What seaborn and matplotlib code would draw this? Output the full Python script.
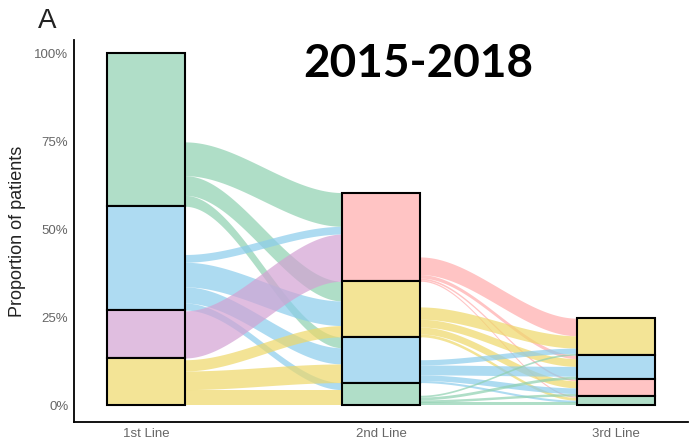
import numpy as np
import pandas as pd
import matplotlib.pyplot as plt
import matplotlib.colors as mcolors
import seaborn as sns

# Lineas de tratamiento y colores de cada regimen
lines = ["1st Line", "2nd Line", "3rd Line"]
regimens = ["R1", "R2", "R3", "R4", "R5"]
regimen_colors = ["#B0DEC8", "#AEDBF2", "#E0BEE0", "#F3E496", "#FFC4C4"]

# Proporcion en 1a linea (%)
first_reg = ["R1", "R2", "R3", "R4"]
first_pct = [43.5, 29.5, 13.6, 13.4]

# Flujos 1a -> 2a linea (%)
f12_src = ["R1", "R1", "R1", "R2", "R2", "R2", "R2", "R3", "R4", "R4", "R4"]
f12_dst = ["R5", "R4", "R2", "R5", "R4", "R2", "R1", "R5", "R4", "R2", "R1"]
f12_val = [9.6, 5.6, 3.1, 2.2, 7.0, 4.6, 2.0, 13.4, 3.2, 5.3, 4.4]

# Flujos 2a -> 3a linea (%)
f23_src = ["R5", "R5", "R5", "R5", "R4", "R4", "R4", "R4",
           "R2", "R2", "R2", "R2", "R1", "R1", "R1", "R1"]
f23_dst = ["R4", "R2", "R5", "R1", "R4", "R2", "R5", "R1",
           "R4", "R2", "R5", "R1", "R4", "R2", "R5", "R1"]
f23_val = [5.0, 1.0, 0.5, 0.4, 3.5, 2.2, 2.0, 0.8,
           1.5, 2.8, 1.6, 0.6, 0.5, 0.8, 0.7, 0.8]

palette = dict(zip(regimens, regimen_colors))
flow_alpha = 0.7


def flow_color(c):
    rgb = np.array(mcolors.to_rgb(c))
    return np.clip(1 - (1 - rgb) / flow_alpha, 0, 1)


flows = [
    pd.DataFrame({"src": f12_src, "dst": f12_dst, "val": f12_val}),
    pd.DataFrame({"src": f23_src, "dst": f23_dst, "val": f23_val}),
]

# Tamaño de los estratos por linea
sizes = [pd.Series(first_pct, index=first_reg) / 100]
for fl in flows:
    sizes.append(fl.groupby("dst")["val"].sum() / 100)

# Orden de arriba a abajo por tamaño y posicion inferior de cada estrato
orders, bottoms = [], []
for s in sizes:
    order = list(s.sort_values(ascending=False).index)
    b, acc = {}, 0.0
    for r in order[::-1]:
        b[r] = acc
        acc += s[r]
    orders.append(order)
    bottoms.append(b)

sns.set_style("white")
plt.rcParams["font.family"] = ["Liberation Sans", "DejaVu Sans"]

fig = plt.figure(figsize=(7, 4.45), dpi=100)
ax = fig.add_axes([0.1057, 0.0517, 0.877, 0.858])
width = 1 / 3

# Flujos
for k, fl in enumerate(flows):
    x0 = k + 1 + width / 2
    x1 = k + 2 - width / 2
    xs = np.linspace(x0, x1, 80)
    t = (xs - x0) / (x1 - x0)
    sm = t * t * (3 - 2 * t)
    fl = fl.copy()
    fl["val"] = fl["val"] / 100
    src_order, dst_order = orders[k], orders[k + 1]
    fl["si"] = fl["src"].map(src_order.index)
    fl["di"] = fl["dst"].map(dst_order.index)
    # salida: parte baja del estrato de origen, ordenado por destino
    out_y = {}
    for r, g in fl.groupby("src"):
        top = bottoms[k][r] + g["val"].sum()
        for idx, row in g.sort_values("di").iterrows():
            out_y[idx] = (top - row["val"], top)
            top -= row["val"]
    # entrada: estrato de destino completo, ordenado por origen
    in_y = {}
    for r, g in fl.groupby("dst"):
        top = bottoms[k + 1][r] + sizes[k + 1][r]
        for idx, row in g.sort_values("si").iterrows():
            in_y[idx] = (top - row["val"], top)
            top -= row["val"]
    for idx, row in fl.iterrows():
        (a0, a1), (b0, b1) = out_y[idx], in_y[idx]
        ax.fill_between(xs, a0 + (b0 - a0) * sm, a1 + (b1 - a1) * sm,
                        color=flow_color(palette[row["src"]]),
                        alpha=flow_alpha, lw=0, zorder=1)

# Estratos
for k, s in enumerate(sizes):
    for r in orders[k]:
        ax.bar(k + 1, s[r], bottom=bottoms[k][r], width=width,
               color=palette[r], edgecolor="black", linewidth=1.5, zorder=3)

ax.set_xlim(0.694, 3.306)
ax.set_ylim(-0.048, 1.037)
ax.set_xticks([1, 2, 3])
ax.set_xticklabels(lines)
ax.set_yticks([0, 0.25, 0.5, 0.75, 1.0])
ax.set_yticklabels(["0%", "25%", "50%", "75%", "100%"])
ax.tick_params(axis="both", length=2.5, width=1, color="#333333",
               labelsize=9.5, labelcolor="#666666", pad=1.5, direction="out")
ax.set_ylabel("Proportion of patients", fontsize=13, color="#222222", labelpad=6)
ax.set_xlabel("")
sns.despine(ax=ax)
for sp in ["left", "bottom"]:
    ax.spines[sp].set_color("black")
    ax.spines[sp].set_linewidth(1.3)

fig.text(38 / 700, 1 - 28 / 445, "A", fontsize=20, color="#222222", va="baseline")
fig.text(418 / 700, 1 - 77 / 445, "2015-2018", fontsize=33, fontweight="bold",
         color="black", family=["Lato", "DejaVu Sans"], ha="center", va="baseline")

fig.savefig("out.png", dpi=100)
